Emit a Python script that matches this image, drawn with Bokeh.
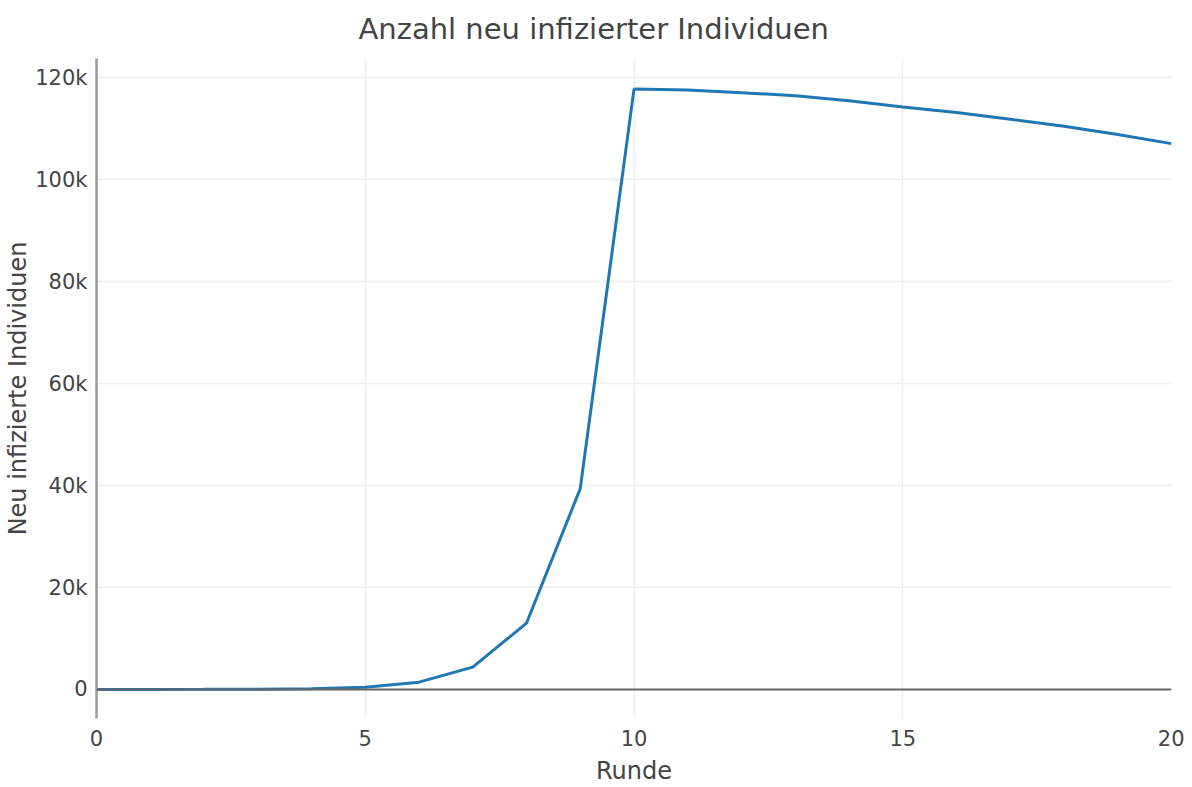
from bokeh.plotting import figure
from bokeh.models import Range1d, FixedTicker, Span, Title
from bokeh.embed import file_html
from bokeh.resources import INLINE

runde = list(range(21))
neu_infiziert = [1, 4, 15, 50, 150, 450, 1430, 4380, 13000, 39400, 117800,
                 117600, 117100, 116500, 115500, 114300, 113200, 111900,
                 110500, 108900, 107100]
x_ticks = [0, 5, 10, 15, 20]
y_ticks = [0, 20000, 40000, 60000, 80000, 100000, 120000]
y_tick_labels = ["0", "20k", "40k", "60k", "80k", "100k", "120k"]

title_text = "Anzahl neu infizierter Individuen"
x_label = "Runde"
y_label = "Neu infizierte Individuen"

FONT = "DejaVu Sans"
TXT = "#444444"

p = figure(width=1184, height=787, output_backend="svg", toolbar_location=None,
           x_range=Range1d(0, 20), y_range=Range1d(-5700, 123800),
           min_border_left=96, min_border_right=13, min_border_top=58,
           min_border_bottom=69)
p.outline_line_color = None
p.background_fill_color = "white"
p.border_fill_color = "white"

t = Title(text=title_text, align="left", text_font=FONT, text_font_size="29px",
          text_color=TXT, text_font_style="normal", standoff=21,
          vertical_align="top", offset=262)
p.add_layout(t, "above")

p.xaxis.ticker = FixedTicker(ticks=x_ticks)
p.yaxis.ticker = FixedTicker(ticks=y_ticks)
p.yaxis.major_label_overrides = {v: s for v, s in zip(y_ticks, y_tick_labels)}
p.xgrid.ticker = FixedTicker(ticks=x_ticks)
p.ygrid.ticker = FixedTicker(ticks=y_ticks[1:])
p.xgrid.grid_line_color = "#eeeeee"
p.ygrid.grid_line_color = "#eeeeee"
p.xgrid.grid_line_width = 1.5
p.ygrid.grid_line_width = 1.5

for ax in (p.xaxis, p.yaxis):
    ax.major_tick_line_color = None
    ax.minor_tick_line_color = None
    ax.major_label_text_font = FONT
    ax.major_label_text_font_size = "21px"
    ax.major_label_text_color = TXT
    ax.axis_label_text_font = FONT
    ax.axis_label_text_font_size = "24px"
    ax.axis_label_text_color = TXT
    ax.axis_label_text_font_style = "normal"

p.xaxis.axis_line_color = None
p.xaxis.major_label_standoff = 5
p.xaxis.axis_label = x_label
p.xaxis.axis_label_standoff = 8
p.yaxis.axis_line_color = "#999999"
p.yaxis.axis_line_width = 2.5
p.yaxis.major_label_standoff = 3
p.yaxis.axis_label = y_label
p.yaxis.axis_label_standoff = 0

p.add_layout(Span(location=0, dimension="width", line_color="#666666", line_width=2))

p.line(runde, neu_infiziert, line_color="#1f77b4", line_width=3)

open("out.html", "w").write(file_html(p, INLINE))
